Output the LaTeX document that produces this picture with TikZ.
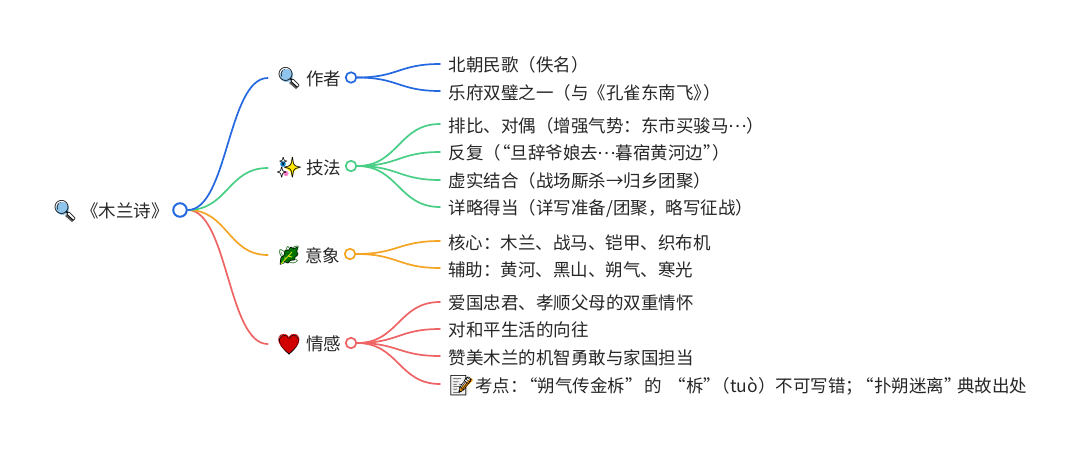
\documentclass[tikz,border=0pt]{standalone}
\usepackage{fontspec}
\setmainfont{Noto Sans CJK SC}
\newfontfamily\emofont{Noto Emoji}
\usetikzlibrary{calc}
\definecolor{cblue}{HTML}{2468E0}
\definecolor{cgreen}{HTML}{48CF85}
\definecolor{corange}{HTML}{F5A524}
\definecolor{cred}{HTML}{EE6464}
\definecolor{ctext}{HTML}{262626}
\definecolor{lensblue}{HTML}{8FC4EC}
\newcommand{\qow}[1]{\hbox to #1pt{\hss“}}
\newcommand{\qcw}[1]{\hbox to #1pt{”\hss}}
\newcommand{\cdt}{\hbox to 17.5pt{\hss\raisebox{5pt}{…}\hss}}
\newcommand{\lensfill}[2]{\fill[black!65] (#1+2,#2+3) -- (#1+9,#2+9) -- (#1+7,#2+11) -- (#1+0,#2+5) -- cycle;
  \fill[lensblue] (#1-2.5,#2-2.5) circle (6.5);}
\tikzset{
  x=1pt,y=-1pt,
  txt/.style={font=\fontsize{17.5}{20}\selectfont,text=ctext,inner sep=0pt,anchor=west},
  emo/.style={font=\emofont\fontsize{20}{20}\selectfont,text=black,inner sep=0pt,minimum width=42pt,minimum height=20pt,align=center},
  hub/.style={circle,draw=#1,fill=white,line width=1.7pt,inner sep=0pt,minimum size=10.5pt},
  link/.style={draw=#1,line width=1.7pt,line cap=round}
}
\newcommand{\hcurve}[3]{\draw[link=#1] (#2) .. controls ($(#2)!.5!(#2 -| #3)$) and ($(#3)!.5!(#2 |- #3)$) .. (#3);}
\begin{document}
\begin{tikzpicture}
\useasboundingbox (0,0) rectangle (1080,448);
% colour under the emoji glyphs
\lensfill{65}{211}
\lensfill{289}{78}
\fill[yellow!90!orange] (292,158) .. controls (293,164) and (294,166) .. (299.5,168) .. controls (294,170) and (293,172) .. (292,177) .. controls (291,172) and (290,170) .. (284.5,168) .. controls (290,166) and (291,164) .. (292,158) -- cycle;
\fill[cyan!70!blue] (283,164) circle (2.8);
\fill[magenta!50] (286,173.5) circle (2.6);
\fill[green!50!black,draw=black,line width=.7pt,rounded corners=1pt] (280,265) -- (281,257) -- (284,256) -- (285,250) -- (288,251) -- (291,246.5) -- (293,249) -- (298,247) -- (296.5,252) -- (298.5,254) -- (294.5,257) -- (295,260) -- (290.5,260) -- (288,263.5) -- (284,261) -- cycle;
\fill[red!85!black,draw=black,line width=.8pt] (289,354) .. controls (282,348) and (278.5,343) .. (279.5,339) .. controls (280.5,334.5) and (287,333.5) .. (289,338.5) .. controls (291,333.5) and (297.5,334.5) .. (298.5,339) .. controls (299.5,343) and (296,348) .. (289,354) -- cycle;
\fill[black!6] (452,377) rectangle (468,395);
\fill[orange!80!yellow] (459,390) -- (471,378) -- (473,380) -- (461,392) -- cycle;
% hubs
\node[hub=cblue,minimum size=13.5pt,line width=2pt] (root) at (180,210) {};
\node[hub=cblue] (h1) at (351,77.5) {};
\node[hub=cgreen] (h2) at (351,166) {};
\node[hub=corange] (h3) at (350,254) {};
\node[hub=cred] (h4) at (351,343) {};
% main labels
\node[emo] (e0) at (65,211) {🔍};
\node[txt] (t0) at (81,211) {《木兰诗》};
\node[emo] (e1) at (289,78) {🔍};
\node[txt] (t1) at (306,78.5) {作者};
\node[emo] (e2) at (289,168) {✨};
\node[txt] (t2) at (306,167.5) {技法};
\node[emo,text=green!35!black,font=\emofont\fontsize{18}{20}\selectfont] (e3) at (289,255) {🌿};
\draw[yellow!80!green,line width=.9pt] (281,264) -- (292,252) (285,259.5) -- (285,256.5) (288,256) -- (292,257);
\node[txt] (t3) at (305,255.5) {意象};
\node[emo,text=red!75!black,font=\emofont\fontsize{19}{20}\selectfont] (e4) at (289,344) {❤};
\node[txt] (t4) at (306,344) {情感};
% leaves
\coordinate (a1) at (440,64);\node[txt] at (448.5,65) (l1) {北朝民歌（佚名）};
\coordinate (a2) at (440,91);\node[txt] at (448.5,92.5) (l2) {乐府双璧之一（与《孔雀东南飞》\kern-8pt）};
\coordinate (b1) at (440,124);\node[txt] at (448.5,126) (m1) {排比、对偶（增强气势：东市买骏马\cdt）};
\coordinate (b2) at (440,152);\node[txt] at (448.5,153) (m2) {反复（\qow{9.5}旦辞爷娘去\cdt 暮宿黄河边\qcw{9.5}）};
\coordinate (b3) at (440,180);\node[txt] at (448.5,181) (m3) {虚实结合（战场厮杀→归乡团聚）};
\coordinate (b4) at (440,207);\node[txt] at (448.5,208.5) (m4) {详略得当（详写准备/团聚，略写征战）};
\coordinate (c1) at (440,241);\node[txt] at (448,242.5) (n1) {核心：木兰、战马、铠甲、织布机};
\coordinate (c2) at (440,268);\node[txt] at (448,270) (n2) {辅助：黄河、黑山、朔气、寒光};
\coordinate (d1) at (440,302);\node[txt] at (448.5,302.5) (p1) {爱国忠君、孝顺父母的双重情怀};
\coordinate (d2) at (440,329);\node[txt] at (448.5,330) (p2) {对和平生活的向往};
\coordinate (d3) at (440,356);\node[txt] at (448.5,358) (p3) {赞美木兰的机智勇敢与家国担当};
\coordinate (d4) at (440,384);
\node[emo,minimum width=20pt] (e5) at (461,386) {📝};
\node[txt] at (475,386) (p4) {考点：\qow{10}朔气传金柝\qcw{19}的\qow{24.5}柝\qcw{9}（tuò）不可写错；\qow{11}扑朔迷离\qcw{13}典故出处};
% connectors
\coordinate (r) at (root.east);
\coordinate (x1) at (e1.west);\coordinate (x2) at (e2.west);\coordinate (x3) at (e3.west);\coordinate (x4) at (e4.west);
\hcurve{cred}{r}{x4}
\hcurve{corange}{r}{x3}
\hcurve{cgreen}{r}{x2}
\hcurve{cblue}{r}{x1}
\coordinate (s1) at (h1.east);\coordinate (s2) at (h2.east);\coordinate (s3) at (h3.east);\coordinate (s4) at (h4.east);
\hcurve{cblue}{s1}{a1}\hcurve{cblue}{s1}{a2}
\hcurve{cgreen}{s2}{b1}\hcurve{cgreen}{s2}{b2}\hcurve{cgreen}{s2}{b3}\hcurve{cgreen}{s2}{b4}
\hcurve{corange}{s3}{c1}\hcurve{corange}{s3}{c2}
\hcurve{cred}{s4}{d1}\hcurve{cred}{s4}{d2}\hcurve{cred}{s4}{d3}\hcurve{cred}{s4}{d4}
\end{tikzpicture}
\end{document}
